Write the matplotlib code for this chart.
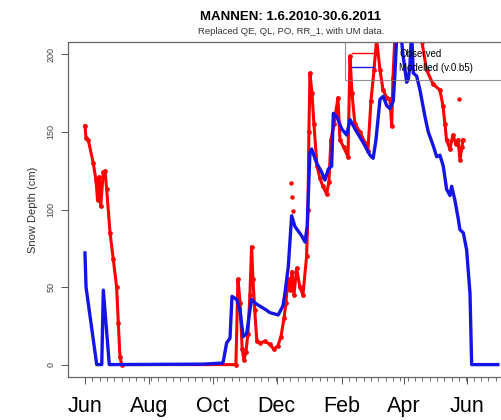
import matplotlib
matplotlib.use("Agg")
import matplotlib.pyplot as plt
import numpy as np

plt.rcParams["font.family"] = ["Liberation Sans", "DejaVu Sans"]

START = np.datetime64("2010-06-01")

# days since 1 June 2010, snow depth in cm
obs_day = [0, 1, 3.1, 7.9, 10.5, 12, 13.6, 15, 17.5, 19.1, 20.7, 23.9, 27, 30.2,
           31.8, 33.4, 35, 144, 146, 148, 150, 151.7, 153.6, 155.5, 157.4,
           159, 160.3, 162, 164, 167, 171.8, 176.5, 180, 184, 187, 190, 191.8,
           193.7, 195.6, 197.5, 199.4, 202, 205, 208, 211.5, 212.8, 213.7, 214.7,
           216.6, 218.5, 221.4, 224.2, 227, 230.6, 232.8, 234.7, 237.6, 241.4,
           243.3, 247, 251, 252.9, 254.8, 257.6, 262.4, 267.2, 270, 272.9, 275.8,
           278.3, 281.5, 284.4, 288.2, 291, 292.7, 293.9, 295.8, 300.6, 310,
           317.7, 321.6, 326, 332, 338.7, 341.6, 343.5, 345, 348.3, 351, 354,
           356, 357.8, 359.7, 360.7]
obs_val = [154, 146, 145, 130, 119, 106, 121, 102, 124, 125, 113, 85, 68, 50,
           27, 5, 0, 0, 55, 40, 10, 3, 8, 20, 45,
           76, 55, 35, 15, 14, 15, 13, 10, 12, 18, 30, 40,
           55, 48, 60, 45, 62, 50, 45, 70, 100, 150, 188,
           175, 155, 128, 120, 115, 110, 118, 145, 155, 172,
           145, 140, 134, 199, 175, 155, 150, 143, 138, 170, 190,
           210, 190, 177, 172, 171, 154, 185, 212, 225, 230,
           220, 208, 190, 181, 177, 167, 155, 145, 139, 148, 142,
           145, 132, 140, 145]

# scattered single observations
obs_extra_day = [197, 197.6, 198.2, 357]
obs_extra_val = [117, 108, 99, 171]

mod_day = [0, 1, 11.2, 16, 17.5, 23.2, 112.6, 131.7, 135.2, 138.4, 140.3, 144.8,
           147.9, 151, 154.3, 157.4, 159, 163.8, 173.4, 176.5, 184.4, 189, 190.8,
           194, 197.2, 200.4, 206.8, 210, 212, 214.7, 216.3, 221, 225.9, 229,
           232.2, 235.4, 237, 240.2, 245, 249.7, 252.9, 257.6, 265.6, 272, 275,
           277.7, 279.9, 281.5, 284.6, 287.9, 291, 294.2, 295.8, 297.7, 300.6,
           303.4, 307, 308.5, 310, 311.7, 313.3, 316.5, 319.7, 324.4, 327.6,
           332.4, 335.6, 338.7, 341.9, 345.1, 348.3, 349.9, 353, 356.2, 357.8,
           361, 364.2, 367.4, 369, 394]
mod_val = [72, 50, 0, 0, 48, 0, 0.3, 1, 14, 17, 44, 42,
           35, 18, 20, 35, 42, 39, 35, 33.5, 32, 38, 46,
           63, 96, 89, 83, 79, 89, 137, 139, 130, 124, 119,
           126, 128, 162, 160, 152, 148, 158, 152, 143, 135, 133,
           145, 160, 171, 173, 167, 165, 170, 188, 215, 220,
           200, 182, 184, 192, 215, 188, 186, 177, 160, 150,
           141, 134, 135, 128, 113, 109, 115, 106, 94, 87,
           85, 74, 46, 0, 0]

month_labels = ["Jun", "Aug", "Oct", "Dec", "Feb", "Apr", "Jun"]
month_dates = ["2010-06-01", "2010-08-01", "2010-10-01", "2010-12-01",
               "2011-02-01", "2011-04-01", "2011-06-01"]


def day_of(date: str) -> int:
    return int((np.datetime64(date) - START).astype(int))


fig = plt.figure(figsize=(5.02, 4.20), dpi=100)
ax = fig.add_axes([68 / 502, 43 / 420, 446 / 502, 335 / 420])

ax.plot(obs_day, obs_val, color="#FF0000", linewidth=2.2, marker="o",
        markersize=2.4, label="Observed", zorder=2)
ax.plot(obs_extra_day, obs_extra_val, linestyle="none", color="#FF0000",
        marker="o", markersize=2.2, zorder=2)
ax.plot(mod_day, mod_val, color="#1414E6", linewidth=2.4,
        label="Modelled (v.0.b5)", zorder=3)

ax.set_xlim(-16.2, 409.4)
ax.set_ylim(-8, 208)

ax.set_yticks([0, 50, 100, 150, 200])
ax.set_yticklabels(["0", "50", "100", "150", "200"], rotation=90, va="center",
                   fontsize=6.5, color="#444444")
ax.tick_params(axis="y", length=5, width=0.7, color="#555555", pad=4)
ax.set_ylabel("Snow Depth (cm)", fontsize=8, color="#333333", labelpad=6)

ax.set_xticks([day_of(d) for d in month_dates])
ax.set_xticklabels(month_labels, fontsize=15.5, color="black")
ax.set_xticks(np.arange(0, 395, 7), minor=True)
ax.tick_params(axis="x", which="major", length=5, width=0.7, color="#555555", pad=9)
ax.tick_params(axis="x", which="minor", length=3, width=0.6, color="#555555")

for spine in ax.spines.values():
    spine.set_color("#666666")
    spine.set_linewidth(0.9)

ax.text(0.5, 1.0 + 25 / 335, "MANNEN: 1.6.2010-30.6.2011", transform=ax.transAxes,
        ha="center", va="center", fontsize=9.5, fontweight="bold")
ax.text(0.5, 1.0 + 11 / 335, "Replaced QE, QL, PO, RR_1, with UM data.",
        transform=ax.transAxes, ha="center", va="center", fontsize=6.8,
        color="#333333")

leg_x0 = (345 - 68) / 446
leg = ax.legend(loc="upper left", bbox_to_anchor=(leg_x0, 1.0, 1.0 - leg_x0, 0.0),
                mode="expand", borderaxespad=0, fontsize=7, frameon=True,
                fancybox=False, handlelength=2.3, handletextpad=2.6,
                borderpad=0.7, labelspacing=0.4)
leg.get_frame().set_facecolor("none")
leg.get_frame().set_edgecolor("#777777")
leg.get_frame().set_linewidth(0.8)
for line in leg.get_lines():
    line.set_marker("")
    line.set_linewidth(1.0)

fig.savefig("out.png", dpi=100, facecolor="white")
